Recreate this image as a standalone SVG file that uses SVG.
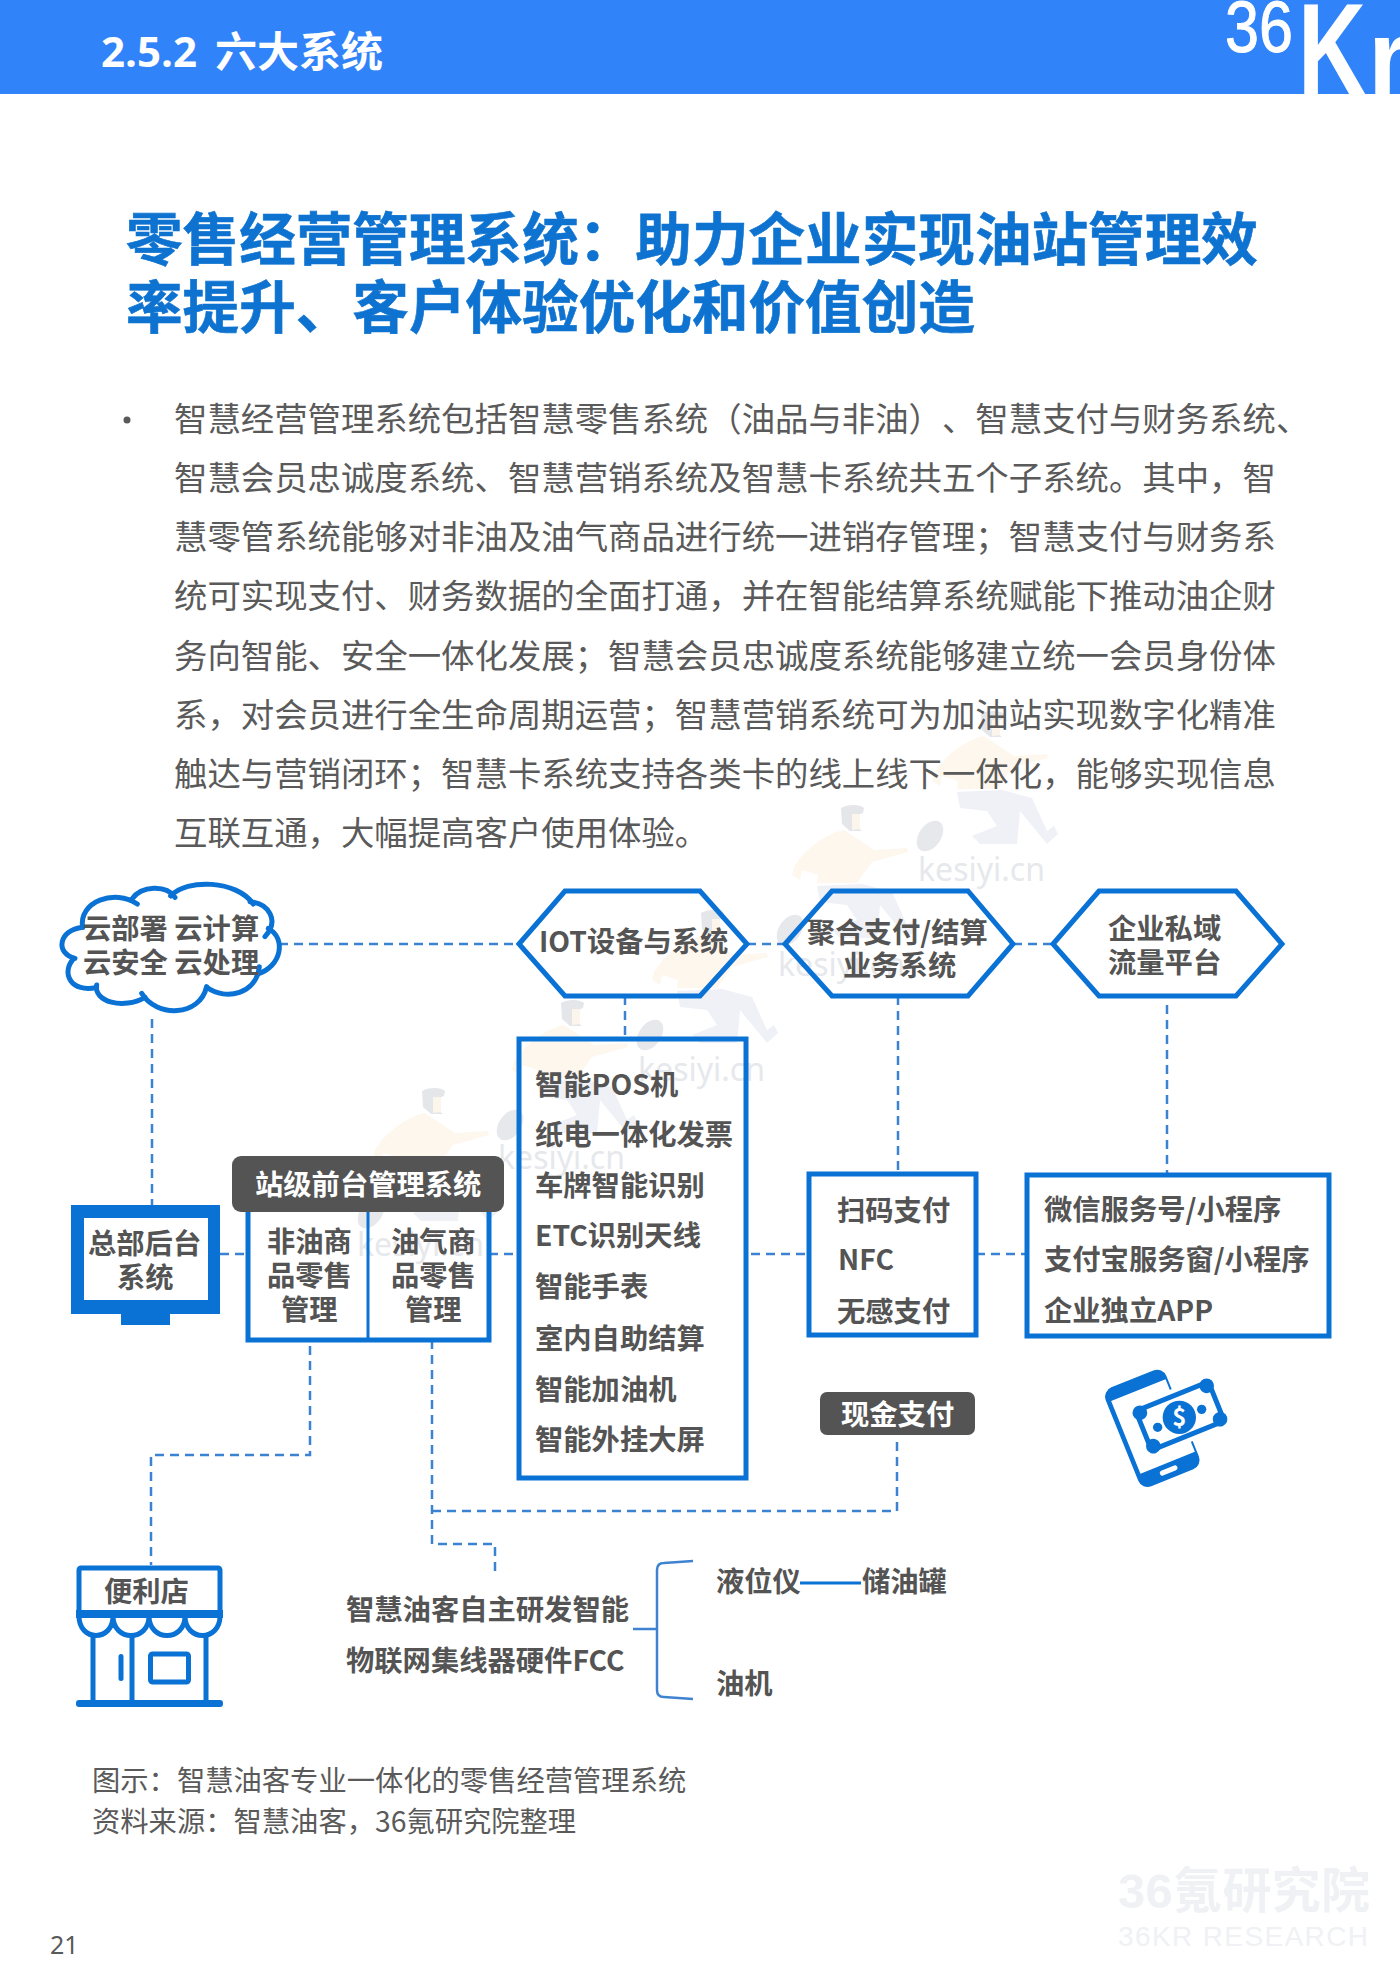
<svg xmlns="http://www.w3.org/2000/svg" width="1400" height="1980" viewBox="0 0 1400 1980">
<style>
text{font-family:"Noto Sans CJK SC","Noto Sans",sans-serif;text-spacing-trim:space-all}
.n{font-size:28.3px;font-weight:700;fill:#545454}
.b{font-size:33.4px;fill:#5a5a5a}
.c{font-size:28.3px;fill:#5a5a5a}
.t{font-size:56.6px;font-weight:700;fill:#0e73d0;stroke:#0e73d0;stroke-width:.6}
.box{fill:none;stroke:#0a72d4;stroke-width:5}
.thin{fill:none;stroke:#3f82d0;stroke-width:2.5}
.dash{fill:none;stroke:#3c82d2;stroke-width:2.5;stroke-dasharray:9 6}
.fill{fill:#0a72d4}
.wm{font-family:"Noto Sans","Open Sans",sans-serif;font-size:32px;fill:#e6e8ec}
.wk{fill:#f0f1f4}
</style>
<defs>
<g id="person">
<path d="M-58,47C-45,25 -20,12 -8,10L22,30L55,28L56,32L20,42L5,63L-35,63L-34,55L-50,50L-52,60L-60,55Z" fill="#fdf7ee"/>
<path d="M-35,66L10,64L40,72L55,105L62,100L66,108L55,118L28,85L25,118L-12,118L-20,110L5,100L-5,85L-32,82Z" fill="#eff1f6"/>
<ellipse cx="-62" cy="110" rx="11" ry="17" transform="rotate(35 -62 110)" fill="#e6e8ec"/>
<path d="M-11,-12C-5,-16 8,-16 12,-12L11,-7L6,-5L6,8L10,11L-2,11L-10,4Z" fill="#e4e6ea"/>
<path d="M0,-6L8,-6L8,9L0,10Z" fill="#fcf5eb"/>
</g>
</defs>
<rect width="1400" height="1980" fill="#fff"/>

<g id="watermarks">
<use href="#person" x="852" y="820"/>
<use href="#person" x="712" y="925"/>
<use href="#person" x="572" y="1015"/>
<use href="#person" x="433" y="1103"/>
<use href="#person" x="992" y="726"/>
<text class="wm" x="918" y="881">kesiyi.cn</text>
<text class="wm" x="778" y="976">kesiyi.cn</text>
<text class="wm" x="638" y="1081">kesiyi.cn</text>
<text class="wm" x="498" y="1169">kesiyi.cn</text>
<text class="wm" x="357" y="1256">kesiyi.cn</text>
<text class="wk" x="1118" y="1908" style="font-size:49px;font-weight:700;font-family:'Liberation Sans','Noto Sans CJK SC',sans-serif" textLength="252">36氪研究院</text>
<text class="wk" x="1118" y="1946" style="font-size:28px;font-family:'Liberation Sans',sans-serif" textLength="250">36KR RESEARCH</text>
</g>

<g id="header">
<rect width="1400" height="94" fill="#3183f9"/>
<text x="101" y="67" style="font-size:42px;font-weight:700;font-family:'Open Sans','Noto Sans CJK SC',sans-serif" fill="#fff">2.5.2</text>
<text x="215" y="67" style="font-size:42px;font-weight:700" fill="#fff">六大系统</text>
<text x="1225" y="52" style="font-size:72px;font-family:'Liberation Sans',sans-serif" fill="#fff" stroke="#fff" textLength="68" lengthAdjust="spacingAndGlyphs">36</text>
<text x="1298" y="94" style="font-size:130px;font-weight:700;font-family:'Liberation Sans',sans-serif" fill="#fff" textLength="68" lengthAdjust="spacingAndGlyphs">K</text>
<text x="1368" y="94" style="font-size:105px;font-weight:700;font-family:'Liberation Sans',sans-serif" fill="#fff">r</text>
</g>

<g id="title">
<text class="t" x="126" y="260">零售经营管理系统：助力企业实现油站管理效</text>
<text class="t" x="126" y="328">率提升、客户体验优化和价值创造</text>
</g>

<g id="body">
<circle cx="127" cy="420" r="3.500" fill="#5a5a5a"/>
<text class="b" x="174" y="431">智慧经营管理系统包括智慧零售系统（油品与非油）、智慧支付与财务系统、</text>
<text class="b" x="174" y="490">智慧会员忠诚度系统、智慧营销系统及智慧卡系统共五个子系统。其中，智</text>
<text class="b" x="174" y="549">慧零管系统能够对非油及油气商品进行统一进销存管理；智慧支付与财务系</text>
<text class="b" x="174" y="608">统可实现支付、财务数据的全面打通，并在智能结算系统赋能下推动油企财</text>
<text class="b" x="174" y="668">务向智能、安全一体化发展；智慧会员忠诚度系统能够建立统一会员身份体</text>
<text class="b" x="174" y="727">系，对会员进行全生命周期运营；智慧营销系统可为加油站实现数字化精准</text>
<text class="b" x="174" y="786">触达与营销闭环；智慧卡系统支持各类卡的线上线下一体化，能够实现信息</text>
<text class="b" x="174" y="845">互联互通，大幅提高客户使用体验。</text>
</g>

<g id="connectors">
<path class="dash" d="M279,944H519"/>
<path class="dash" d="M747,944H785"/>
<path class="dash" d="M1013,944H1053"/>
<path class="dash" d="M152,1019V1205"/>
<path class="dash" d="M625,996V1039"/>
<path class="dash" d="M898,996V1174"/>
<path class="dash" d="M1167,1005V1175"/>
<path class="dash" d="M220,1254H248"/>
<path class="dash" d="M489,1254H519"/>
<path class="dash" d="M751,1254H809"/>
<path class="dash" d="M976,1254H1027"/>
<path class="dash" d="M310,1346V1455H151V1565"/>
<path class="dash" d="M432,1340V1544H495V1572"/>
<path class="dash" d="M432,1511H897V1437"/>
<path class="thin" d="M633,1629H657M693,1561L664,1563Q657,1563 657,1570V1690Q657,1697 664,1697L693,1699"/>
<path d="M800,1583H861" fill="none" stroke="#0a72d4" stroke-width="3"/>
</g>

<g id="node-cloud">
<g class="box" transform="translate(50,870) scale(.3333)" style="stroke-width:15;stroke-linecap:round">
<path d="M98,172C85,95 195,55 262,102"/>
<path d="M245,88C275,45 350,45 375,82"/>
<path d="M362,78C410,25 560,30 610,102"/>
<path d="M600,95C655,100 690,150 645,200"/>
<path d="M655,175C710,205 695,290 622,312"/>
<path d="M628,290C620,370 530,395 470,352"/>
<path d="M470,350C450,440 320,445 275,370"/>
<path d="M285,382C220,420 130,395 140,345"/>
<path d="M140,352C65,370 30,310 72,265"/>
<path d="M75,265C15,250 25,180 98,172"/>
</g>
<text class="n" x="83" y="939" xml:space="preserve">云部署 云计算</text>
<text class="n" x="83" y="973" xml:space="preserve">云安全 云处理</text>
</g>

<g id="node-iot">
<path class="box" d="M519,944L565,891H700L747,944L700,996H565Z"/>
<text class="n" x="539" y="952">IOT设备与系统</text>
</g>
<g id="node-pay">
<path class="box" d="M785,944L832,891H968L1013,944L968,996H832Z"/>
<text class="n" x="807" y="943">聚合支付/结算</text>
<text class="n" x="843" y="976">业务系统</text>
</g>
<g id="node-traffic">
<path class="box" d="M1053,944L1099,891H1236L1282,944L1236,996H1099Z"/>
<text class="n" x="1108" y="939">企业私域</text>
<text class="n" x="1108" y="973">流量平台</text>
</g>

<g id="node-hq">
<path class="fill" fill-rule="evenodd" d="M71,1205H220V1314H170V1325H121V1314H71ZM84,1218V1300H208V1218Z"/>
<text class="n" x="88" y="1254">总部后台</text>
<text class="n" x="117" y="1288">系统</text>
</g>

<g id="node-front">
<rect class="box" x="248" y="1205" width="241" height="135"/>
<path d="M368,1212V1340" fill="none" stroke="#0a72d4" stroke-width="3"/>
<rect x="232" y="1156" width="272" height="56" rx="9" fill="#545454"/>
<text x="255" y="1195" style="font-size:28.3px;font-weight:700" fill="#fff">站级前台管理系统</text>
<text class="n" x="267" y="1252">非油商</text>
<text class="n" x="267" y="1286">品零售</text>
<text class="n" x="281" y="1320">管理</text>
<text class="n" x="391" y="1252">油气商</text>
<text class="n" x="391" y="1286">品零售</text>
<text class="n" x="405" y="1320">管理</text>
</g>

<g id="node-iotlist">
<rect class="box" x="519" y="1039" width="227" height="439"/>
<text class="n" x="535" y="1095">智能POS机</text>
<text class="n" x="535" y="1145">纸电一体化发票</text>
<text class="n" x="535" y="1196">车牌智能识别</text>
<text class="n" x="535" y="1246">ETC识别天线</text>
<text class="n" x="535" y="1297">智能手表</text>
<text class="n" x="535" y="1349">室内自助结算</text>
<text class="n" x="535" y="1400">智能加油机</text>
<text class="n" x="535" y="1450">智能外挂大屏</text>
</g>

<g id="node-paylist">
<rect class="box" x="809" y="1174" width="167" height="161"/>
<text class="n" x="837" y="1221">扫码支付</text>
<text class="n" x="838" y="1270">NFC</text>
<text class="n" x="837" y="1322">无感支付</text>
</g>

<g id="node-miniapp">
<rect class="box" x="1027" y="1175" width="302" height="161"/>
<text class="n" x="1044" y="1220">微信服务号/小程序</text>
<text class="n" x="1044" y="1270">支付宝服务窗/小程序</text>
<text class="n" x="1044" y="1321">企业独立APP</text>
</g>

<g id="node-cash">
<rect x="820" y="1392" width="155" height="43" rx="7" fill="#545454"/>
<text x="841" y="1425" style="font-size:28.3px;font-weight:700" fill="#fff">现金支付</text>
</g>

<g id="node-icon" transform="translate(1060,1340) scale(.3333)">
<rect x="-98" y="-160" width="196" height="320" rx="30" transform="translate(277,265) rotate(-22)" class="fill"/>
<rect x="-84" y="-122" width="176" height="235" transform="translate(277,265) rotate(-22)" fill="#fff"/>
<rect x="-30" y="128" width="56" height="15" rx="7" transform="translate(277,265) rotate(-22)" fill="#fff"/>
<rect x="-138" y="-84" width="276" height="168" rx="16" transform="translate(360,228) rotate(-22)" fill="#fff"/>
<rect x="-125" y="-71" width="250" height="142" rx="14" transform="translate(360,228) rotate(-22)" class="fill"/>
<rect x="-110" y="-56" width="220" height="112" transform="translate(360,228) rotate(-22)" fill="#fff"/>
<g transform="translate(360,228) rotate(-22)" class="fill">
<circle cx="-108" cy="-54" r="22"/><circle cx="108" cy="-54" r="22"/><circle cx="-108" cy="54" r="22"/><circle cx="108" cy="54" r="22"/>
</g>
<circle cx="358" cy="232" r="50" class="fill"/>
<circle cx="293" cy="262" r="14" class="fill"/>
<circle cx="425" cy="208" r="14" class="fill"/>
<text x="358" y="258" text-anchor="middle" style="font-size:72px;font-weight:700" fill="#fff">$</text>
</g>

<g id="node-store">
<rect x="79" y="1568" width="141" height="45" rx="2" class="box"/>
<rect x="76" y="1610" width="147" height="8" class="fill"/>
<path d="M79,1616C79,1642 113,1642 113,1616C113,1642 149,1642 149,1616C149,1642 185,1642 185,1616C185,1642 220,1642 220,1616" fill="none" stroke="#0a72d4" stroke-width="5"/>
<path d="M93,1634V1704M132,1636V1704M206,1634V1704" fill="none" stroke="#0a72d4" stroke-width="5"/>
<rect x="76" y="1700" width="147" height="7" rx="3" class="fill"/>
<rect x="150.500" y="1654" width="38" height="28" rx="2" class="box"/>
<rect x="118.500" y="1654" width="5" height="27" rx="2.500" class="fill"/>
<text class="n" x="104" y="1602">便利店</text>
</g>

<g id="node-fcc">
<text class="n" x="346" y="1620">智慧油客自主研发智能</text>
<text class="n" x="346" y="1671">物联网集线器硬件FCC</text>
</g>
<g id="node-level"><text class="n" x="716" y="1592">液位仪</text></g>
<g id="node-tank"><text class="n" x="862" y="1592">储油罐</text></g>
<g id="node-disp"><text class="n" x="716" y="1694">油机</text></g>

<g id="caption">
<text class="c" x="92" y="1791">图示：智慧油客专业一体化的零售经营管理系统</text>
<text class="c" x="92" y="1832">资料来源：智慧油客，36氪研究院整理</text>
<text x="50" y="1954" style="font-size:25px;font-family:'Noto Sans',sans-serif" fill="#5a5a5a">21</text>
</g>
</svg>
